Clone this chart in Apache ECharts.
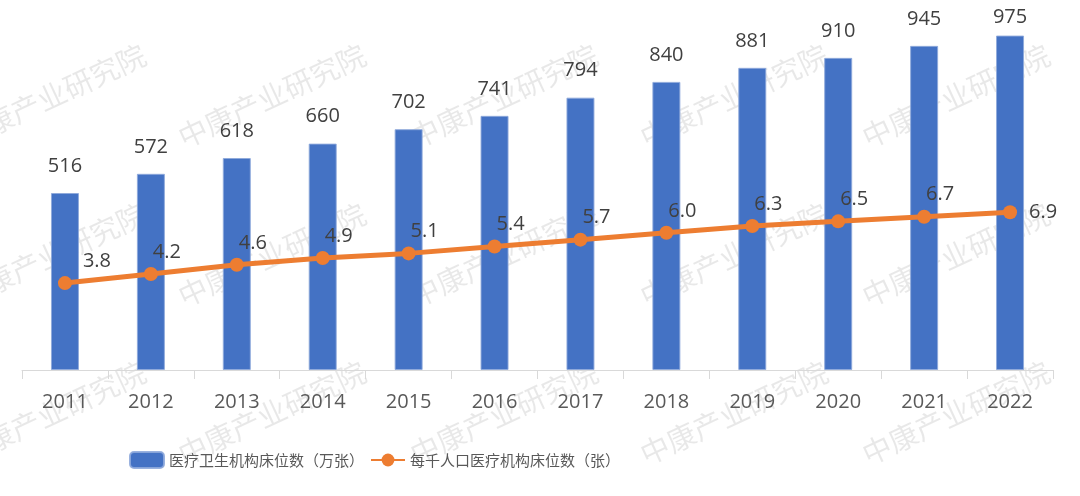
<!DOCTYPE html>
<html>
<head>
<meta charset="utf-8">
<script src="https://cdn.jsdelivr.net/npm/echarts@6/dist/echarts.min.js"></script>
<style>
  html, body { margin: 0; padding: 0; background: #fff; }
  #main { width: 1080px; height: 496px; }
</style>
</head>
<body>
<div id="main"></div>
<script>
var years = ['2011', '2012', '2013', '2014', '2015', '2016', '2017', '2018', '2019', '2020', '2021', '2022'];
// 医疗卫生机构床位数（万张）
var beds = [516, 572, 618, 660, 702, 741, 794, 840, 881, 910, 945, 975];
// 每千人口医疗机构床位数（张）
var bedsPerThousand = [3.8, 4.2, 4.6, 4.9, 5.1, 5.4, 5.7, 6.0, 6.3, 6.5, 6.7, 6.9];

var barName = '医疗卫生机构床位数（万张）';
var lineName = '每千人口医疗机构床位数（张）';

var chart = echarts.init(document.getElementById('main'));

// 水印
var markText = '中康产业研究院';
var markCols = [-34, 186, 418, 648, 870];
var markRows = [152, 311, 469];
var marks = [];
markRows.forEach(function (y) {
    markCols.forEach(function (x) {
        marks.push({
            type: 'text',
            x: x,
            y: y,
            rotation: 25 * Math.PI / 180,
            z: -10,
            silent: true,
            style: {
                text: markText,
                fill: 'rgba(0,0,0,0.09)',
                font: '29px "Noto Sans CJK SC"',
                align: 'left',
                verticalAlign: 'bottom'
            }
        });
    });
});

var barData = beds.map(function (v, i) {
    var item = { value: v };
    if (i === beds.length - 1) item.label = { distance: 8 };
    return item;
});

var lineData = bedsPerThousand.map(function (v, i) {
    var item = { value: v };
    if (i === 0) item.label = { offset: [32, 0] };
    if (i === bedsPerThousand.length - 1) item.label = { position: 'right', distance: 12, offset: [0, 0] };
    return item;
});

chart.setOption({
    animation: false,
    textStyle: { fontFamily: '"Open Sans", "Noto Sans CJK SC", sans-serif' },
    graphic: { elements: marks },
    legend: {
        left: 124,
        top: 446,
        itemWidth: 34,
        itemHeight: 16,
        itemGap: 6,
        textStyle: {
            color: '#595959',
            fontSize: 15,
            fontFamily: '"Noto Sans CJK SC"'
        },
        data: [barName, lineName]
    },
    grid: {
        left: 22,
        right: 27,
        top: 27,
        bottom: 126,
        containLabel: false
    },
    xAxis: {
        type: 'category',
        data: years,
        axisLine: { lineStyle: { color: '#d9d9d9', width: 1 } },
        axisTick: { show: true, length: 9, lineStyle: { color: '#d9d9d9' } },
        axisLabel: { color: '#595959', fontSize: 20, margin: 22 }
    },
    yAxis: [{
        type: 'value',
        min: 0,
        max: 1000,
        show: false,
        splitLine: { show: false }
    }, {
        type: 'value',
        min: 0,
        max: 15,
        show: false,
        splitLine: { show: false }
    }],
    series: [{
        name: barName,
        type: 'bar',
        yAxisIndex: 0,
        z: 3,
        barWidth: 28,
        data: barData,
        itemStyle: {
            color: '#4472C4',
            borderColor: 'rgba(143,170,220,0.9)',
            borderWidth: 1
        },
        label: {
            show: true,
            position: 'top',
            distance: 17,
            color: '#404040',
            fontSize: 20
        }
    }, {
        name: lineName,
        type: 'line',
        yAxisIndex: 1,
        z: 4,
        data: lineData,
        symbol: 'circle',
        symbolSize: 14,
        lineStyle: { color: '#ED7D31', width: 5 },
        itemStyle: { color: '#ED7D31' },
        label: {
            show: true,
            position: 'top',
            distance: 5,
            offset: [16, 0],
            color: '#404040',
            fontSize: 20,
            formatter: function (p) { return p.value.toFixed(1); }
        }
    }]
});
</script>
</body>
</html>
